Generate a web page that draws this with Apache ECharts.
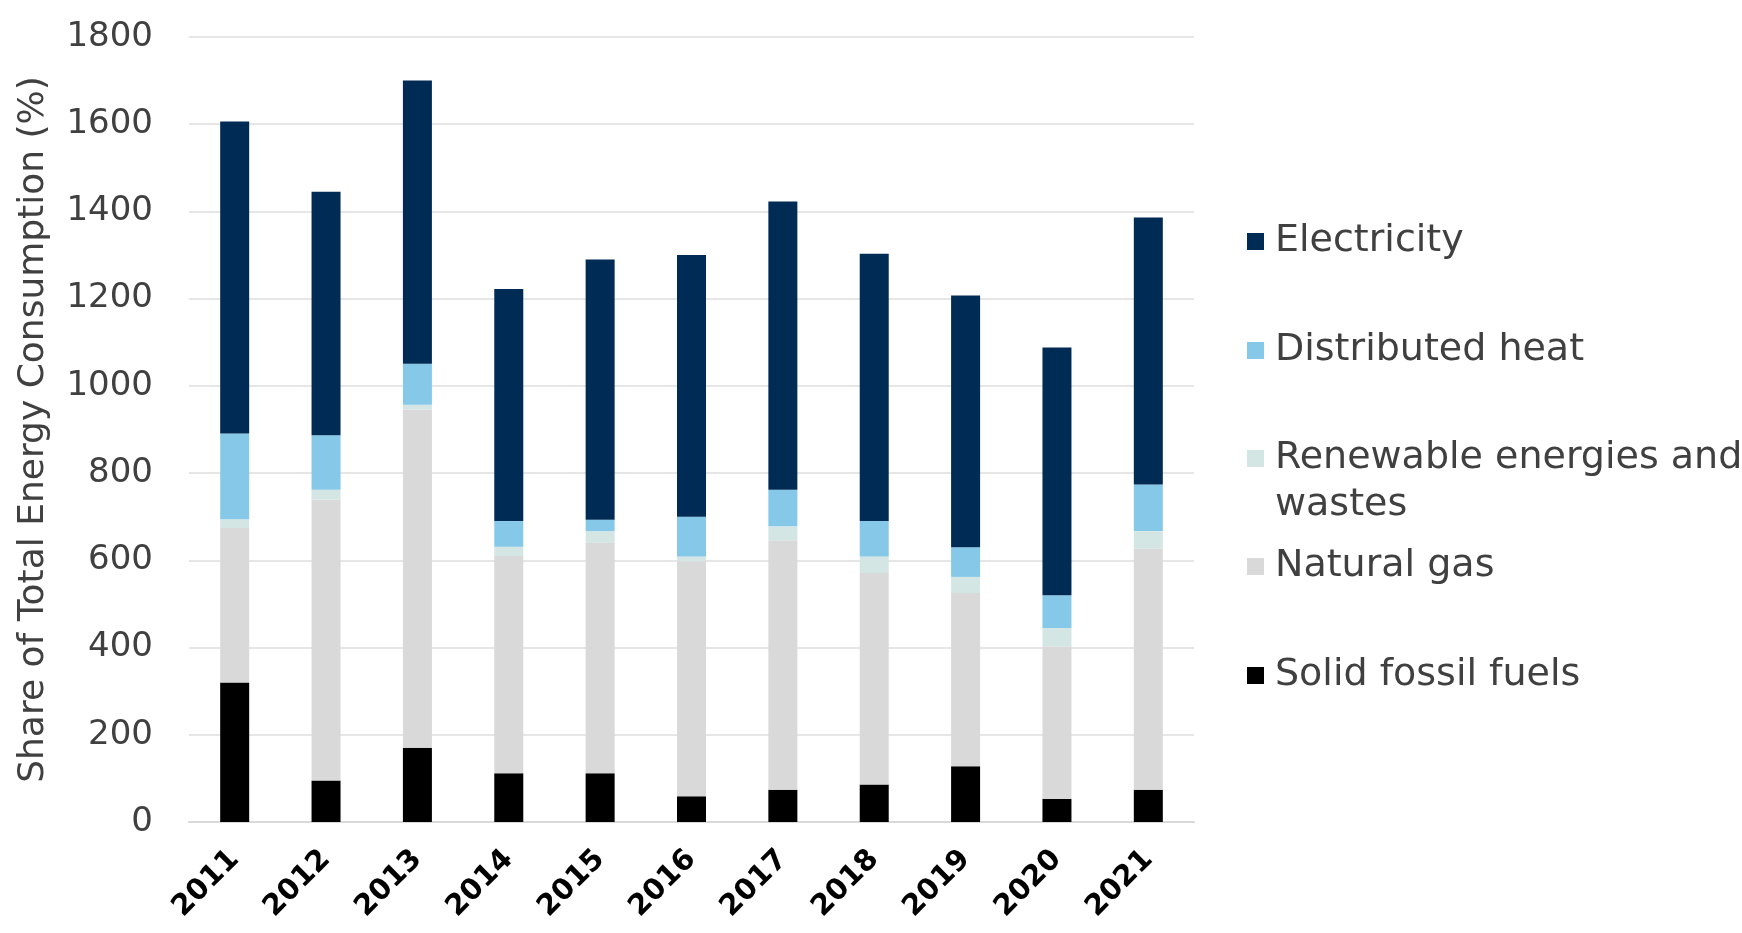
<!DOCTYPE html>
<html>
<head>
<meta charset="utf-8">
<script src="https://cdn.jsdelivr.net/npm/echarts@6/dist/echarts.min.js"></script>
<style>
  html, body { margin: 0; padding: 0; background: #fff; }
  #chart { width: 1742px; height: 933px; }
</style>
</head>
<body>
<div id="chart"></div>
<script>
// values
var years = ['2011', '2012', '2013', '2014', '2015', '2016', '2017', '2018', '2019', '2020', '2021'];
var solidFossil = [320, 95, 170, 112, 112, 59, 74, 86, 128, 53, 74];
var naturalGas = [354, 644, 776, 498, 528, 539, 572, 485, 397, 350, 553];
var renewables = [20, 23, 11, 21, 27, 11, 32, 38, 37, 42, 40];
var distHeat = [197, 125, 94, 59, 26, 91, 84, 81, 68, 75, 107];
var electricity = [715, 558, 649, 532, 597, 600, 661, 613, 577, 568, 612];
var yTicks = [0, 200, 400, 600, 800, 1000, 1200, 1400, 1600, 1800];

var FONT = '"DejaVu Sans", "Noto Sans", sans-serif';
var LINE_H = 47;
var RENEW = 'Renewable energies and wastes';

var chart = echarts.init(document.getElementById('chart'));

function bar (name, data, color) {
  return {
    name: name,
    type: 'bar',
    stack: 'total',
    barWidth: 29,
    itemStyle: { color: color },
    emphasis: { disabled: true },
    data: data
  };
}

// one legend per entry so the gaps match the picture
// (the wrapped entry keeps its marker on the first line)
function legendItem (name, centerY, lines) {
  return {
    orient: 'vertical',
    left: 1247,
    top: Math.round(centerY - lines * LINE_H / 2),
    padding: 0,
    itemWidth: 17,
    itemHeight: 17,
    icon: 'rect',
    textStyle: {
      fontFamily: FONT,
      fontSize: 38,
      color: '#404040',
      lineHeight: LINE_H,
      padding: [0, 0, 0, 6]
    },
    formatter: function (n) {
      return n === RENEW ? '\nRenewable energies and\nwastes' : n
    },
    data: [name]
  };
}

var option = {
  animation: false,
  grid: {
    left: 189,
    right: 548,
    top: 37,
    bottom: 111,
    containLabel: false
  },
  legend: [
    legendItem('Electricity', 241, 1),
    legendItem('Distributed heat', 350, 1),
    legendItem(RENEW, 458, 3),
    legendItem('Natural gas', 566, 1),
    legendItem('Solid fossil fuels', 675, 1)
  ],
  xAxis: {
    type: 'category',
    data: years,
    axisTick: { show: false },
    axisLine: { lineStyle: { color: '#d9d9d9', width: 2 } },
    axisLabel: {
      rotate: 45,
      margin: 33,
      fontFamily: FONT,
      fontSize: 29,
      fontWeight: 'bold',
      color: '#000'
    }
  },
  yAxis: {
    type: 'value',
    min: yTicks[0],
    max: yTicks[yTicks.length - 1],
    interval: 200,
    name: 'Share of Total Energy Consumption (%)',
    nameLocation: 'middle',
    nameGap: 137,
    nameTextStyle: {
      fontFamily: FONT,
      fontSize: 36,
      color: '#404040'
    },
    axisLine: { show: false },
    axisTick: { show: false },
    axisLabel: {
      margin: 36,
      fontFamily: FONT,
      fontSize: 34,
      color: '#404040',
      formatter: function (v) { return String(v) }
    },
    splitLine: { lineStyle: { color: '#e6e6e6', width: 2 } }
  },
  series: [
    bar('Solid fossil fuels', solidFossil, '#000000'),
    bar('Natural gas', naturalGas, '#d9d9d9'),
    bar(RENEW, renewables, '#d4e6e4'),
    bar('Distributed heat', distHeat, '#86c8e8'),
    bar('Electricity', electricity, '#002b55')
  ]
};

chart.setOption(option);
</script>
</body>
</html>
